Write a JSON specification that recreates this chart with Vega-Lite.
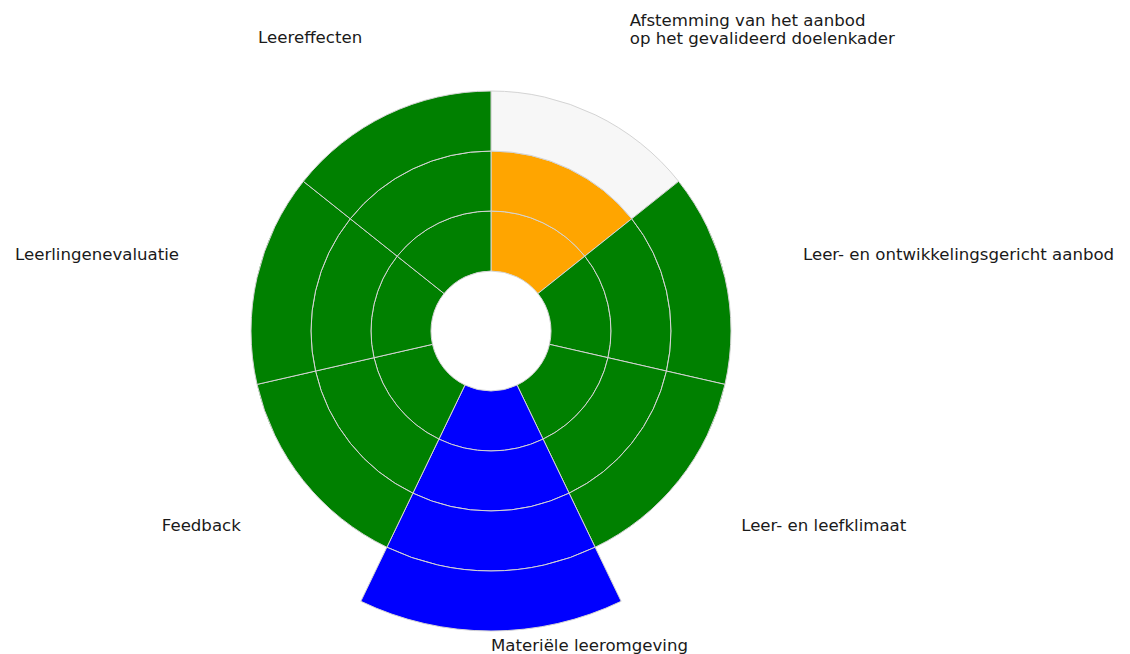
{
  "$schema": "https://vega.github.io/schema/vega-lite/v6.json",
  "autosize": {"type": "none"},
  "padding": {"left": 191, "top": 31, "right": 339, "bottom": 23},
  "width": 600,
  "height": 600,
  "background": "white",
  "config": {"view": {"stroke": null}},
  "data": {
    "values": [
      {"category": "Afstemming van het aanbod\nop het gevalideerd doelenkader", "sector": 0, "level": 1, "status": "ontwikkelpunt"},
      {"category": "Afstemming van het aanbod\nop het gevalideerd doelenkader", "sector": 0, "level": 2, "status": "ontwikkelpunt"},
      {"category": "Afstemming van het aanbod\nop het gevalideerd doelenkader", "sector": 0, "level": 3, "status": "niet behaald"},
      {"category": "Leer- en ontwikkelingsgericht aanbod", "sector": 1, "level": 1, "status": "voldoende"},
      {"category": "Leer- en ontwikkelingsgericht aanbod", "sector": 1, "level": 2, "status": "voldoende"},
      {"category": "Leer- en ontwikkelingsgericht aanbod", "sector": 1, "level": 3, "status": "voldoende"},
      {"category": "Leer- en leefklimaat", "sector": 2, "level": 1, "status": "voldoende"},
      {"category": "Leer- en leefklimaat", "sector": 2, "level": 2, "status": "voldoende"},
      {"category": "Leer- en leefklimaat", "sector": 2, "level": 3, "status": "voldoende"},
      {"category": "Materiële leeromgeving", "sector": 3, "level": 1, "status": "sterk"},
      {"category": "Materiële leeromgeving", "sector": 3, "level": 2, "status": "sterk"},
      {"category": "Materiële leeromgeving", "sector": 3, "level": 3, "status": "sterk"},
      {"category": "Materiële leeromgeving", "sector": 3, "level": 4, "status": "sterk"},
      {"category": "Feedback", "sector": 4, "level": 1, "status": "voldoende"},
      {"category": "Feedback", "sector": 4, "level": 2, "status": "voldoende"},
      {"category": "Feedback", "sector": 4, "level": 3, "status": "voldoende"},
      {"category": "Leerlingenevaluatie", "sector": 5, "level": 1, "status": "voldoende"},
      {"category": "Leerlingenevaluatie", "sector": 5, "level": 2, "status": "voldoende"},
      {"category": "Leerlingenevaluatie", "sector": 5, "level": 3, "status": "voldoende"},
      {"category": "Leereffecten", "sector": 6, "level": 1, "status": "voldoende"},
      {"category": "Leereffecten", "sector": 6, "level": 2, "status": "voldoende"},
      {"category": "Leereffecten", "sector": 6, "level": 3, "status": "voldoende"}
    ]
  },
  "resolve": {"scale": {"theta": "independent"}},
  "layer": [
    {
      "mark": {
        "type": "arc",
        "stroke": "#d4d4d4",
        "strokeWidth": 1,
        "radiusOffset": 60,
        "theta2Offset": 0.8975979010256552
      },
      "encoding": {
        "theta": {"field": "sector", "type": "quantitative", "scale": {"domain": [0, 7], "range": [0, 6.283185307179586]}},
        "theta2": {"field": "sector"},
        "radius": {"field": "level", "type": "quantitative", "scale": {"type": "linear", "domain": [0, 5], "range": [0, 300], "zero": true}},
        "radius2": {"field": "level"},
        "color": {
          "field": "status",
          "type": "nominal",
          "scale": {"domain": ["voldoende", "ontwikkelpunt", "sterk", "niet behaald"], "range": ["#008000", "#FFA500", "#0000FF", "#f7f7f7"]},
          "legend": null
        }
      }
    },
    {
      "transform": [{"filter": "datum.level == 1 && datum.sector == 0"}],
      "mark": {"type": "text", "align": "left", "baseline": "bottom", "dy": -14, "font": "DejaVu Sans", "fontSize": 16.6, "lineBreak": "\n", "lineHeight": 18, "color": "#1a1a1a"},
      "encoding": {
        "theta": {"field": "sector", "type": "quantitative", "scale": {"domain": [-0.5, 6.5], "range": [0, 6.283185307179586]}},
        "radius": {"value": 320},
        "text": {"field": "category"}
      }
    },
    {
      "transform": [{"filter": "datum.level == 1 && datum.sector >= 1 && datum.sector <= 3"}],
      "mark": {"type": "text", "align": "left", "baseline": "bottom", "dy": 3, "font": "DejaVu Sans", "fontSize": 16.6, "lineBreak": "\n", "lineHeight": 18, "color": "#1a1a1a"},
      "encoding": {
        "theta": {"field": "sector", "type": "quantitative", "scale": {"domain": [-0.5, 6.5], "range": [0, 6.283185307179586]}},
        "radius": {"value": 320},
        "text": {"field": "category"}
      }
    },
    {
      "transform": [{"filter": "datum.level == 1 && datum.sector >= 4 && datum.sector <= 5"}],
      "mark": {"type": "text", "align": "right", "baseline": "bottom", "dy": 3, "font": "DejaVu Sans", "fontSize": 16.6, "lineBreak": "\n", "lineHeight": 18, "color": "#1a1a1a"},
      "encoding": {
        "theta": {"field": "sector", "type": "quantitative", "scale": {"domain": [-0.5, 6.5], "range": [0, 6.283185307179586]}},
        "radius": {"value": 320},
        "text": {"field": "category"}
      }
    },
    {
      "transform": [{"filter": "datum.level == 1 && datum.sector == 6"}],
      "mark": {"type": "text", "align": "right", "baseline": "bottom", "dy": 3, "dx": 10, "font": "DejaVu Sans", "fontSize": 16.6, "lineBreak": "\n", "lineHeight": 18, "color": "#1a1a1a"},
      "encoding": {
        "theta": {"field": "sector", "type": "quantitative", "scale": {"domain": [-0.5, 6.5], "range": [0, 6.283185307179586]}},
        "radius": {"value": 320},
        "text": {"field": "category"}
      }
    }
  ]
}
